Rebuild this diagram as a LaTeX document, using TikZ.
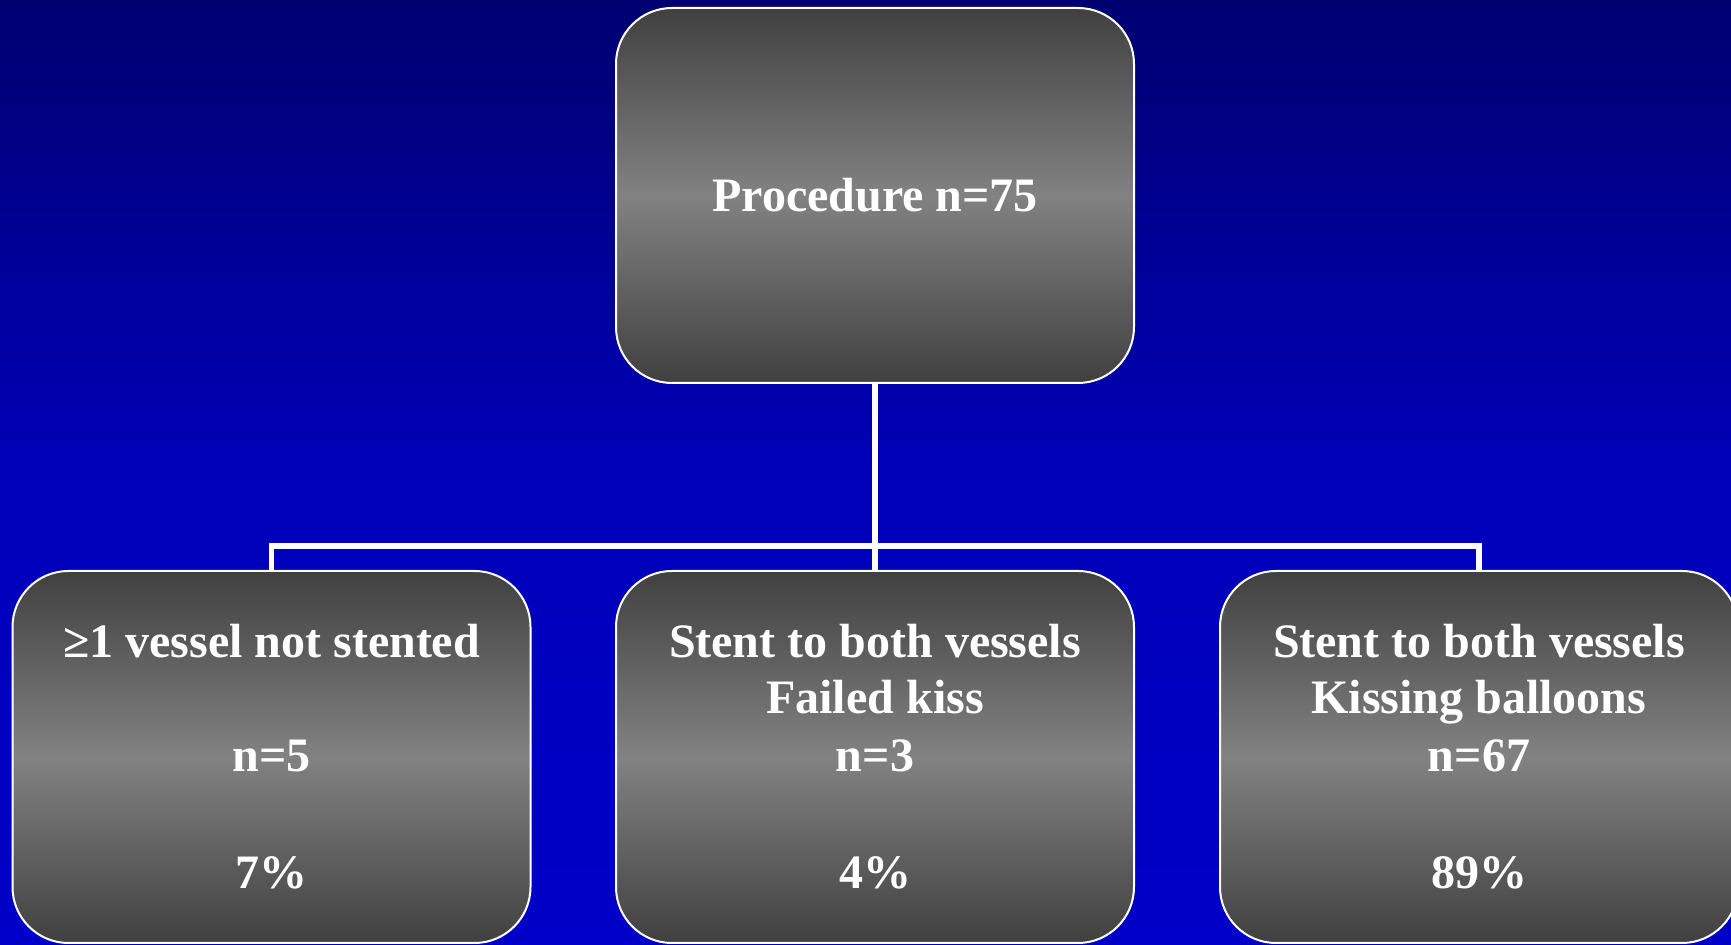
\documentclass[tikz,border=0pt]{standalone}
\usepackage{fontspec}
\setmainfont{Liberation Serif}
\definecolor{bgtop}{RGB}{0,0,112}
\definecolor{bgmid}{RGB}{0,0,185}
\definecolor{bgbot}{RGB}{0,0,200}
\definecolor{boxdark}{RGB}{64,64,64}
\definecolor{boxlight}{RGB}{130,130,130}
\tikzset{
  box/.style={draw=white, line width=1pt, rounded corners=28pt,
    top color=boxdark, bottom color=boxdark, middle color=boxlight,
    minimum width=259pt, minimum height=186pt, align=center,
    text=white, inner sep=0pt,
    font=\fontsize{24}{29.25}\selectfont\bfseries},
  conn/.style={draw=white, line width=2.8pt}
}
\begin{document}
\begin{tikzpicture}[x=0.5pt,y=-0.5pt]
\useasboundingbox (0,0) rectangle (1731,945);
\shade[top color=bgtop, bottom color=bgbot, middle color=bgmid] (0,0) rectangle (1731,945);
\coordinate (j) at (875,546);
\node[box, minimum height=187.5pt] (top) at (875,195.5) {Procedure n=75};
\node[box] (left) at (271.5,757) {\raisebox{-1.5pt}{≥1 vessel not stented}\\[29.25pt]n=5\\[29.25pt]7\%};
\node[box] (mid) at (875,757) {\raisebox{-1.5pt}{Stent to both vessels}\\Failed kiss\\n=3\\[29.25pt]4\%};
\node[box] (right) at (1479,757) {\raisebox{-1.5pt}{Stent to both vessels}\\Kissing balloons\\n=67\\[29.25pt]89\%};
\draw[conn] (top.south) -- (mid.north);
\draw[conn] (left.north) -- (left.north |- j) -- (right.north |- j) -- (right.north);
\end{tikzpicture}
\end{document}
